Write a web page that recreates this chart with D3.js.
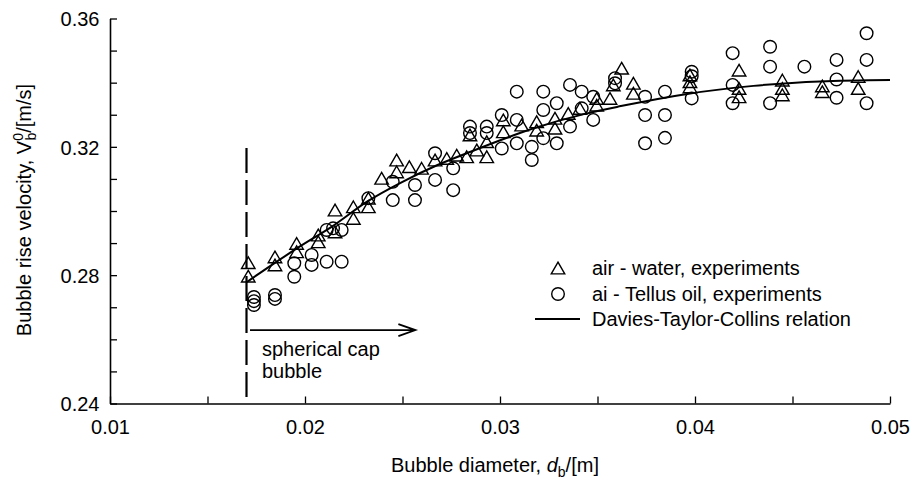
<!DOCTYPE html>
<html><head><meta charset="utf-8">
<script src="https://cdn.jsdelivr.net/npm/d3@7/dist/d3.min.js"></script>
<style>
body{margin:0;background:#fff}
svg{display:block}
text{font-family:"Liberation Sans",Arial,Helvetica,sans-serif;fill:#000}
</style>
</head><body>
<svg id="chart" width="913" height="480"></svg>
<script>
// ---- data ----
const xMajorTicks = [0.01, 0.02, 0.03, 0.04, 0.05];
const xMinorTicks = [0.015, 0.025, 0.035, 0.045];
const yMajorTicks = [0.24, 0.28, 0.32, 0.36];
const yMinorTicks = [0.25, 0.26, 0.27, 0.29, 0.30, 0.31, 0.33, 0.34, 0.35];

// air - water experiments: [diameter m, velocity m/s]
const airWater = [
  [0.01709,0.2839],[0.01709,0.2797],[0.01846,0.2857],[0.01846,0.2832],[0.01957,0.2899],[0.01957,0.2873],
  [0.02068,0.2925],[0.02068,0.2904],[0.02154,0.3003],[0.02154,0.2935],[0.02248,0.3013],[0.02248,0.2977],
  [0.02325,0.3040],[0.02325,0.3013],[0.02393,0.3102],[0.02470,0.3159],[0.02470,0.3122],[0.02535,0.3138],
  [0.02598,0.3133],[0.02667,0.3159],[0.02727,0.3164],[0.02778,0.3174],[0.02829,0.3169],[0.02881,0.3190],
  [0.02932,0.3169],[0.02846,0.3237],[0.02932,0.3216],[0.03017,0.3284],[0.03017,0.3247],[0.03111,0.3268],
  [0.03188,0.3278],[0.03188,0.3252],[0.03282,0.3289],[0.03282,0.3258],[0.03350,0.3304],[0.03410,0.3320],
  [0.03496,0.3351],[0.03496,0.3330],[0.03564,0.3351],[0.03581,0.3393],[0.03624,0.3445],[0.03684,0.3398],
  [0.03684,0.3367],[0.03974,0.3424],[0.03974,0.3403],[0.03974,0.3387],[0.04226,0.3439],[0.04226,0.3382],
  [0.04226,0.3356],[0.04448,0.3408],[0.04448,0.3382],[0.04448,0.3362],[0.04653,0.3390],[0.04653,0.3372],
  [0.04837,0.3419],[0.04837,0.3382]
];

// air - Tellus oil experiments: [diameter m, velocity m/s]
const airTellus = [
  [0.01738,0.2732],[0.01738,0.2719],[0.01738,0.2707],[0.01846,0.2738],[0.01846,0.2726],[0.01945,0.2837],
  [0.01945,0.2795],[0.02034,0.2863],[0.02034,0.2832],[0.02111,0.2842],[0.02188,0.2842],[0.02111,0.2941],
  [0.02144,0.2946],[0.02188,0.2941],[0.02325,0.3040],[0.02450,0.3091],[0.02450,0.3034],[0.02564,0.3081],
  [0.02564,0.3034],[0.02667,0.3180],[0.02667,0.3097],[0.02760,0.3133],[0.02760,0.3065],[0.02846,0.3263],
  [0.02846,0.3243],[0.02932,0.3263],[0.02932,0.3243],[0.03009,0.3299],[0.03009,0.3195],[0.03086,0.3372],
  [0.03086,0.3284],[0.03086,0.3211],[0.03163,0.3200],[0.03163,0.3159],[0.03222,0.3372],[0.03222,0.3315],
  [0.03222,0.3227],[0.03291,0.3336],[0.03291,0.3211],[0.03359,0.3393],[0.03359,0.3263],[0.03419,0.3372],
  [0.03419,0.3320],[0.03478,0.3356],[0.03478,0.3284],[0.03590,0.3414],[0.03590,0.3398],[0.03744,0.3356],
  [0.03744,0.3299],[0.03744,0.3211],[0.03846,0.3372],[0.03846,0.3299],[0.03846,0.3228],[0.03983,0.3434],
  [0.03983,0.3420],[0.03983,0.3351],[0.04193,0.3492],[0.04193,0.3393],[0.04193,0.3336],[0.04385,0.3512],
  [0.04385,0.3450],[0.04385,0.3336],[0.04561,0.3450],[0.04726,0.3471],[0.04726,0.3410],[0.04726,0.3353],
  [0.04880,0.3554],[0.04880,0.3471],[0.04880,0.3336]
];

// Davies-Taylor-Collins relation, points
const dtcCurve = [
  [0.0170,0.2778],[0.0184,0.2836],[0.0197,0.2888],[0.0214,0.2952],[0.0232,0.3030],[0.0249,0.3088],
  [0.0266,0.3138],[0.0283,0.3180],[0.0317,0.3257],[0.0343,0.3302],[0.0362,0.3327],[0.0396,0.3365],
  [0.0430,0.3390],[0.0464,0.3404],[0.0500,0.3408]
];

// spherical-cap limit and annotation arrow (data coordinates)
const capLimitD = 0.017;
const capLimitTop = 0.3196;
const arrowFrom = [0.01718, 0.2629];
const arrowTo = [0.02566, 0.2629];

const legendLabels = ["air - water, experiments", "ai - Tellus oil, experiments", "Davies-Taylor-Collins relation"];

// ---- drawing ----
const svg = d3.select("#chart");
const x = d3.scaleLinear().domain([0.01, 0.05]).range([110, 890]);
const y = d3.scaleLinear().domain([0.24, 0.36]).range([403.5, 18.5]);
const FS = 20;
const fmt = d3.format(".2f");

// x axis
const gx = svg.append("g").attr("transform", `translate(0,${y(0.24)})`)
  .call(d3.axisBottom(x).tickValues(xMajorTicks.concat(xMinorTicks).sort(d3.ascending))
    .tickSizeInner(-7).tickSizeOuter(0)
    .tickFormat(d => xMajorTicks.includes(d) ? fmt(d) : ""));
gx.select(".domain").attr("stroke", "#000").attr("stroke-width", 1.6);
gx.selectAll(".tick line").attr("stroke", "#000").attr("stroke-width", 1.3);
gx.selectAll(".tick text").attr("y", 30).attr("dy", 0)
  .attr("font-size", FS).attr("font-family", null).style("fill", "#000");

// y axis
const gy = svg.append("g").attr("transform", `translate(${x(0.01)},0)`)
  .call(d3.axisLeft(y).tickValues(yMajorTicks.concat(yMinorTicks).sort(d3.ascending))
    .tickSizeInner(-7).tickSizeOuter(0)
    .tickFormat(d => yMajorTicks.some(t => Math.abs(t - d) < 1e-9) ? fmt(d) : ""));
gy.select(".domain").attr("stroke", "#000").attr("stroke-width", 1.6);
gy.selectAll(".tick line").attr("stroke", "#000").attr("stroke-width", 1.3);
gy.selectAll(".tick text").attr("x", -10.5).attr("dy", "0.36em")
  .attr("font-size", FS).attr("font-family", null).style("fill", "#000");

// dashed spherical-cap limit
svg.append("line")
  .attr("x1", x(capLimitD)).attr("x2", x(capLimitD))
  .attr("y1", y(capLimitTop)).attr("y2", y(0.24))
  .attr("stroke", "#000").attr("stroke-width", 2.2)
  .attr("stroke-dasharray", "25,7");

// arrow
const ax1 = x(arrowFrom[0]), ay = y(arrowFrom[1]), ax2 = x(arrowTo[0]);
svg.append("path")
  .attr("d", `M${ax1},${ay}H${ax2}M${ax2 - 17},${ay - 6}L${ax2},${ay}L${ax2 - 17},${ay + 6}`)
  .attr("fill", "none").attr("stroke", "#000").attr("stroke-width", 1.8);
svg.append("text").attr("x", ax1 + 12).attr("y", ay + 26).attr("font-size", FS).text("spherical cap");
svg.append("text").attr("x", ax1 + 12).attr("y", ay + 48).attr("font-size", FS).text("bubble");

// curve
const line = d3.line().x(d => x(d[0])).y(d => y(d[1])).curve(d3.curveMonotoneX);
svg.append("path").datum(dtcCurve).attr("d", line)
  .attr("fill", "none").attr("stroke", "#000").attr("stroke-width", 2);

// markers
const triPath = (s) => { const h = s * Math.sqrt(3) / 2; return `M0,${-h/2}L${s/2},${h/2}L${-s/2},${h/2}Z`; };
svg.append("g").selectAll("circle").data(airTellus).join("circle")
  .attr("cx", d => x(d[0])).attr("cy", d => y(d[1])).attr("r", 6.3)
  .attr("fill", "none").attr("stroke", "#000").attr("stroke-width", 1.4);
svg.append("g").selectAll("path").data(airWater).join("path")
  .attr("transform", d => `translate(${x(d[0])},${y(d[1])})`)
  .attr("d", triPath(13.5))
  .attr("fill", "none").attr("stroke", "#000").attr("stroke-width", 1.4);

// legend
const lg = svg.append("g");
lg.append("path").attr("transform", "translate(558,268)").attr("d", triPath(13.5))
  .attr("fill", "none").attr("stroke", "#000").attr("stroke-width", 1.4);
lg.append("circle").attr("cx", 558).attr("cy", 294).attr("r", 6.3)
  .attr("fill", "none").attr("stroke", "#000").attr("stroke-width", 1.4);
lg.append("line").attr("x1", 535).attr("x2", 580).attr("y1", 319).attr("y2", 319)
  .attr("stroke", "#000").attr("stroke-width", 1.8);
legendLabels.forEach((t, i) => {
  lg.append("text").attr("x", 592).attr("y", 275 + i * 25.5).attr("font-size", FS).text(t);
});

// x axis title
const xt = svg.append("text").attr("x", 495).attr("y", 472).attr("text-anchor", "middle").attr("font-size", FS);
xt.append("tspan").text("Bubble diameter, ");
xt.append("tspan").attr("font-style", "italic").text("d");
xt.append("tspan").attr("font-size", 14).attr("dy", 5).text("b");
xt.append("tspan").attr("dy", -5).text("/[m]");

// y axis title
const yt = svg.append("text").attr("transform", "translate(31,210) rotate(-90)")
  .attr("text-anchor", "middle").attr("font-size", FS);
yt.append("tspan").text("Bubble rise velocity, V");
yt.append("tspan").attr("font-size", 14).attr("dy", -8).text("0");
yt.append("tspan").attr("font-size", 14).attr("dx", -7.5).attr("dy", 13).text("b");
yt.append("tspan").attr("dy", -5).text("/[m/s]");
</script>
</body></html>
